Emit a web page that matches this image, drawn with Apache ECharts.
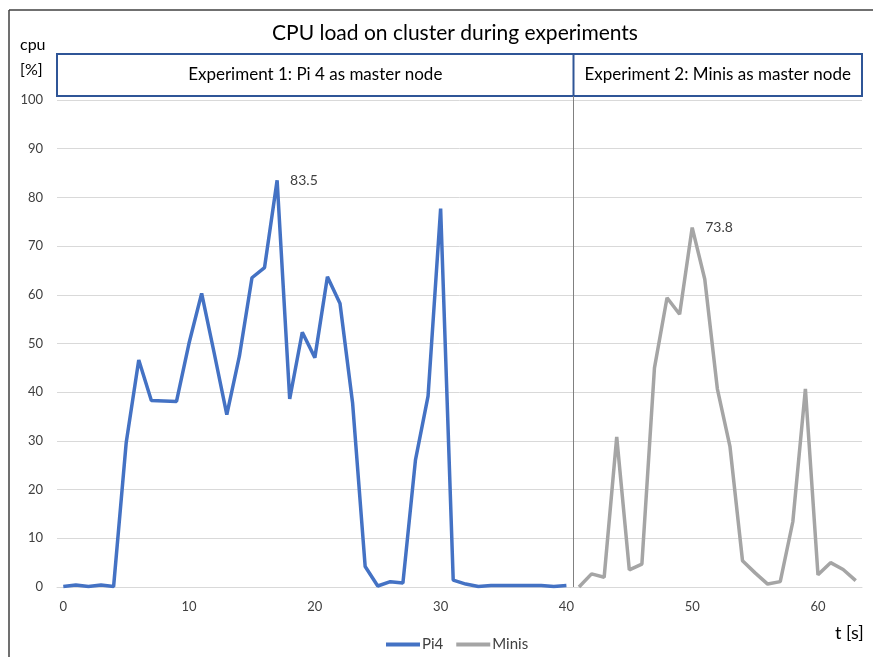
<!DOCTYPE html>
<html>
<head>
<meta charset="utf-8">
<title>CPU load on cluster during experiments</title>
<script src="https://cdn.jsdelivr.net/npm/echarts@6/dist/echarts.min.js"></script>
<style>
  html, body { margin: 0; padding: 0; background: #fff; }
  #chart { width: 877px; height: 657px; }
</style>
</head>
<body>
<div id="chart"></div>
<script>
// time axis, one category per second
const seconds = ['0','1','2','3','4','5','6','7','8','9','10','11','12','13','14','15',
  '16','17','18','19','20','21','22','23','24','25','26','27','28','29','30','31',
  '32','33','34','35','36','37','38','39','40','41','42','43','44','45','46','47',
  '48','49','50','51','52','53','54','55','56','57','58','59','60','61','62','63'];
const xTickLabels = ['0', '10', '20', '30', '40', '50', '60'];

// Experiment 1: Pi 4 as master node, t = 0..40
const pi4Start = 0;
const pi4Load = [0.1, 0.4, 0.1, 0.4, 0.1, 29.6, 46.6, 38.3, 38.2, 38.1,
  50.1, 60.3, 48.0, 35.4, 47.4, 63.5, 65.6, 83.5, 38.6, 52.3,
  47.1, 63.7, 58.2, 37.8, 4.2, 0.2, 1.1, 0.8, 26.1, 39.2,
  77.7, 1.4, 0.6, 0.1, 0.3, 0.3, 0.3, 0.3, 0.3, 0.1, 0.3];

// Experiment 2: Minis as master node, t = 41..63
const minisStart = 41;
const minisLoad = [0, 2.7, 2.0, 30.8, 3.5, 4.7, 45.0, 59.4, 56.0, 73.8,
  63.2, 40.7, 28.9, 5.4, 2.9, 0.6, 1.1, 13.4, 40.7, 2.5, 5.0, 3.6, 1.3];

const FONT = 'Lato';
const gridLeft = 57, gridRight = 15, gridTop = 100, gridBottom = 70;

// only the peak of each run gets a value label
function toPoints(start, values) {
  const peak = Math.max(...values);
  return values.map((v, i) => {
    const item = { value: [start + i, v] };
    if (v === peak) {
      item.label = { show: true, position: 'right', distance: 13, formatter: String(v),
        color: '#404040', fontSize: 14, fontFamily: FONT };
    }
    return item;
  });
}

const chart = echarts.init(document.getElementById('chart'));

const option = {
  animation: false,
  backgroundColor: '#fff',
  textStyle: { fontFamily: FONT },
  title: {
    text: 'CPU load on cluster during experiments',
    left: 450, top: 18, textAlign: 'center',
    textStyle: { fontSize: 21, fontWeight: 'normal', color: '#000', fontFamily: FONT }
  },
  legend: {
    left: 381, top: 632,
    icon: 'rect', itemWidth: 34, itemHeight: 4, itemGap: 13,
    textStyle: { fontSize: 15, color: '#404040', fontFamily: FONT, padding: [0, 0, 0, -3] },
    data: ['Pi4', 'Minis']
  },
  grid: { left: gridLeft, right: gridRight, top: gridTop, bottom: gridBottom },
  xAxis: {
    type: 'category',
    data: seconds,
    boundaryGap: true,
    axisLine: { show: true, lineStyle: { color: '#d9d9d9' } },
    axisTick: { show: false },
    splitLine: { show: false },
    axisLabel: {
      interval: (idx, val) => xTickLabels.includes(val),
      color: '#404040', fontSize: 13, margin: 13, fontFamily: FONT
    }
  },
  yAxis: {
    type: 'value',
    min: 0, max: 100, interval: 10,
    axisLine: { show: false },
    axisTick: { show: false },
    splitLine: { lineStyle: { color: '#d9d9d9', width: 1 } },
    axisLabel: { color: '#404040', fontSize: 13, margin: 14, fontFamily: FONT }
  },
  series: [
    {
      name: 'Pi4', type: 'line', symbol: 'circle', symbolSize: 0, showSymbol: true,
      lineStyle: { color: '#4472C4', width: 3.5 },
      itemStyle: { color: '#4472C4' },
      emphasis: { disabled: true },
      data: toPoints(pi4Start, pi4Load)
    },
    {
      name: 'Minis', type: 'line', symbol: 'circle', symbolSize: 0, showSymbol: true,
      lineStyle: { color: '#A5A5A5', width: 3.5 },
      itemStyle: { color: '#A5A5A5' },
      emphasis: { disabled: true },
      data: toPoints(minisStart, minisLoad)
    }
  ]
};

chart.setOption(option);

// separator between the two experiments, halfway between last Pi4 and first Minis sample
const lastPi4 = pi4Start + pi4Load.length - 1;
const sepX = Math.round((chart.convertToPixel({ xAxisIndex: 0 }, lastPi4) +
  chart.convertToPixel({ xAxisIndex: 0 }, minisStart)) / 2) + 0.5;
const y0 = chart.convertToPixel({ yAxisIndex: 0 }, 0);
const left = gridLeft, right = 877 - gridRight;
const boxTop = 54, boxBottom = 96;
const boxColor = '#2F5597';

chart.setOption({
  graphic: [
    // outer frame
    { type: 'line', shape: { x1: 9, y1: 10, x2: 873, y2: 10 }, style: { stroke: '#404040', lineWidth: 1.5 } },
    { type: 'line', shape: { x1: 9, y1: 10, x2: 9, y2: 657 }, style: { stroke: '#404040', lineWidth: 1.5 } },
    // axis names
    { type: 'text', left: 20, top: 37, style: { text: 'cpu', fontSize: 16, fill: '#000', fontFamily: FONT } },
    { type: 'text', left: 20, top: 62, style: { text: '[%]', fontSize: 16, fill: '#000', fontFamily: FONT } },
    { type: 'text', left: 835, top: 624, style: { text: 't [s]', fontSize: 18, fill: '#000', fontFamily: FONT } },
    // experiment header
    { type: 'rect', shape: { x: left, y: boxTop, width: right - left, height: boxBottom - boxTop },
      style: { fill: 'none', stroke: boxColor, lineWidth: 2 } },
    { type: 'line', shape: { x1: sepX, y1: boxTop, x2: sepX, y2: boxBottom },
      style: { stroke: boxColor, lineWidth: 2 } },
    { type: 'text', x: (left + sepX) / 2, y: (boxTop + boxBottom) / 2,
      style: { text: 'Experiment 1: Pi 4 as master node', fontSize: 17, fill: '#000', fontFamily: FONT,
        align: 'center', verticalAlign: 'middle' } },
    { type: 'text', x: (sepX + right) / 2, y: (boxTop + boxBottom) / 2,
      style: { text: 'Experiment 2: Minis as master node', fontSize: 17, fill: '#000', fontFamily: FONT,
        align: 'center', verticalAlign: 'middle' } },
    // vertical divider in plot
    { type: 'line', shape: { x1: sepX, y1: boxBottom, x2: sepX, y2: y0 },
      style: { stroke: '#808080', lineWidth: 1 }, z: 10 }
  ]
});
</script>
</body>
</html>
